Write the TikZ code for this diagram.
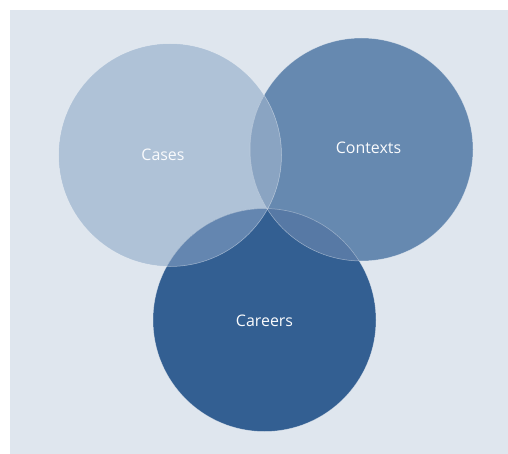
\documentclass[tikz,border=0pt]{standalone}
\usepackage{fontspec}
\setmainfont{Open Sans}
\usepackage{tikz}
\usetikzlibrary{positioning}
\definecolor{bgblue}{HTML}{DFE6EE}
\definecolor{casesblue}{HTML}{AFC2D7}
\definecolor{contextsblue}{HTML}{6689B0}
\definecolor{careersblue}{HTML}{335F92}
\definecolor{casectx}{HTML}{8AA4C2}
\definecolor{casecar}{HTML}{6486B0}
\definecolor{ctxcar}{HTML}{5779A5}
\tikzstyle{venn} = [circle, minimum size=223bp, inner sep=0pt]
\tikzstyle{rim} = [draw=white, draw opacity=0.45, line width=0.5bp]
\tikzstyle{tag} = [text=white!94!casesblue, font=\fontsize{16}{19}\selectfont]

\begin{document}
\begin{tikzpicture}[x=1bp, y=-1bp]
    \useasboundingbox (0,0) rectangle (508,454);
    \fill[bgblue] (10,10) rectangle (508,454);
    % the three sets
    \node (cases) [venn, fill=casesblue] at (170,155) {};
    \node (contexts) [venn, fill=contextsblue] at (361.5,149.5) {};
    \node (careers) [venn, fill=careersblue] at (264.5,320) {};
    % overlaps
    \begin{scope}
        \clip (cases.center) circle [radius=111.5bp];
        \fill[casectx] (contexts.center) circle [radius=111.5bp];
        \fill[casecar] (careers.center) circle [radius=111.5bp];
    \end{scope}
    \begin{scope}
        \clip (contexts.center) circle [radius=111.5bp];
        \fill[ctxcar] (careers.center) circle [radius=111.5bp];
    \end{scope}
    \draw[rim] (cases.center) circle [radius=111.5bp];
    \draw[rim] (contexts.center) circle [radius=111.5bp];
    \draw[rim] (careers.center) circle [radius=111.5bp];
    % labels
    \node (casestxt) [tag] at ([xshift=-7bp]cases.center) {Cases};
    \node (contextstxt) [tag] at ([xshift=7bp,yshift=1.5bp]contexts.center) {Contexts};
    \node (careerstxt) [tag] at ([yshift=-1bp]careers.center) {Careers};
\end{tikzpicture}
\end{document}
